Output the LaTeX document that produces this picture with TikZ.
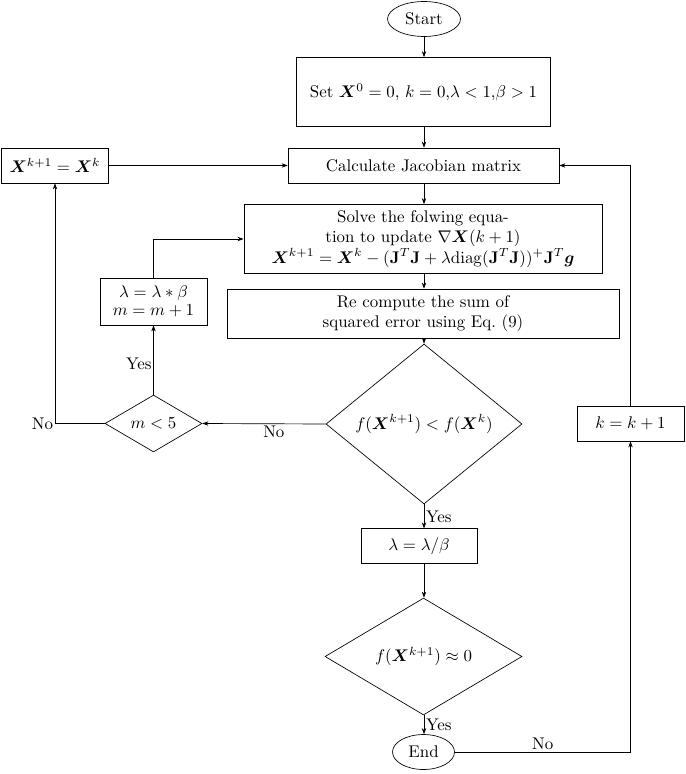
\documentclass[tikz,border=0pt]{standalone}
\usepackage{amsmath,bm}
\usetikzlibrary{shapes.geometric,arrows.meta}
\begin{document}
\begin{tikzpicture}[x=0.592pt,y=-0.592pt,
  >={Stealth[length=3.6pt,width=2.6pt]},
  every node/.style={font=\fontsize{10}{12}\selectfont},
  box/.style={draw,rectangle,inner sep=1pt,align=center},
  oval/.style={draw,ellipse,inner sep=0pt},
  dia/.style={draw,diamond,inner sep=0pt,aspect=1.2},
  lbl/.style={inner sep=1pt}]
\useasboundingbox (0,0) rectangle (685,774);
\coordinate (col) at (424,0);
\node[oval,minimum width=43.2pt,minimum height=20.7pt] (start) at (424,19) {Start};
\node[box,minimum width=150.4pt,minimum height=40.8pt] (set) at (423.5,92) {Set $\bm{X}^0=0$, $k=0$,$\lambda<1$,$\beta>1$};
\node[box,minimum width=160.4pt,minimum height=20.7pt] (calc) at (423.5,165.5) {Calculate Jacobian matrix};
\node[box,minimum width=212pt,minimum height=40.8pt] (solve) at (423,239) {Solve the folwing equa-\\tion to update $\nabla\bm{X}(k+1)$\\$\bm{X}^{k+1}=\bm{X}^{k}-(\mathbf{J}^T\mathbf{J}+\lambda\mathrm{diag}(\mathbf{J}^T\mathbf{J}))^{+}\mathbf{J}^T\bm{g}$};
\node[box,minimum width=232pt,minimum height=29pt] (recomp) at (423,313.5) {Re compute the sum of\\squared error using Eq.~(9)};
\node[dia,minimum width=116pt,minimum height=94.7pt] (d1) at (424,424) {$f(\bm{X}^{k+1})<f(\bm{X}^{k})$};
\node[box,minimum width=68.7pt,minimum height=20.4pt] (lb) at (419,546) {$\lambda=\lambda/\beta$};
\node[dia,minimum width=116.6pt,minimum height=69.2pt] (d2) at (423.5,656.5) {$f(\bm{X}^{k+1})\approx0$};
\node[oval,minimum width=36.7pt,minimum height=20.7pt] (end) at (423.5,752) {End};
\node[box,minimum width=63.3pt,minimum height=20.7pt] (kb) at (630.5,423.5) {$k=k+1$};
\node[box,minimum width=63.3pt,minimum height=20.7pt] (xb) at (55,165.5) {$\bm{X}^{k+1}=\bm{X}^{k}$};
\node[box,minimum width=63.3pt,minimum height=27.8pt] (lm) at (153.5,301.5) {$\lambda=\lambda*\beta$\\[-1pt]$m=m+1$};
\node[dia,minimum width=57.4pt,minimum height=33.7pt] (m5) at (153.5,423.5) {$m<5$};
\draw[->] (start) -- (start |- set.north);
\draw[->] (set.south -| col) -- (calc.north -| col);
\draw[->] (calc.south -| col) -- (solve.north -| col);
\draw[->] (solve.south -| col) -- (recomp.north -| col);
\draw[->] (recomp.south -| col) -- (d1.north);
\draw[->] (d1.south) -- node[lbl,right,pos=0.5]{Yes} (lb.north -| d1.south);
\draw[->] (lb.south -| col) -- (d2.north -| col);
\draw[->] (d2.south -| col) -- node[lbl,right,pos=0.5]{Yes} (end.north -| col);
\coordinate (rc) at (630.5,0);
\draw[->] (end.east) -- node[lbl,above,pos=0.5]{No} (end.east -| rc) -- (kb.south -| rc);
\draw[->] (kb.north -| rc) -- (calc.east -| rc) -- (calc.east);
\draw[->] (d1.west) -- node[lbl,below,pos=0.42]{No} (m5.east);
\draw[->] (m5.north) -- node[lbl,left,pos=0.45]{Yes} (lm.south);
\coordinate (sl) at (0,239);
\draw[->] (lm.north) -- (lm.north |- sl) -- (solve.west |- sl);
\coordinate (lc) at (55,0);
\draw[->] (m5.west) -- (m5.west -| lc) node[lbl,left]{No} -- (xb.south -| lc);
\draw[->] (xb.east) -- (calc.west);
\end{tikzpicture}
\end{document}
